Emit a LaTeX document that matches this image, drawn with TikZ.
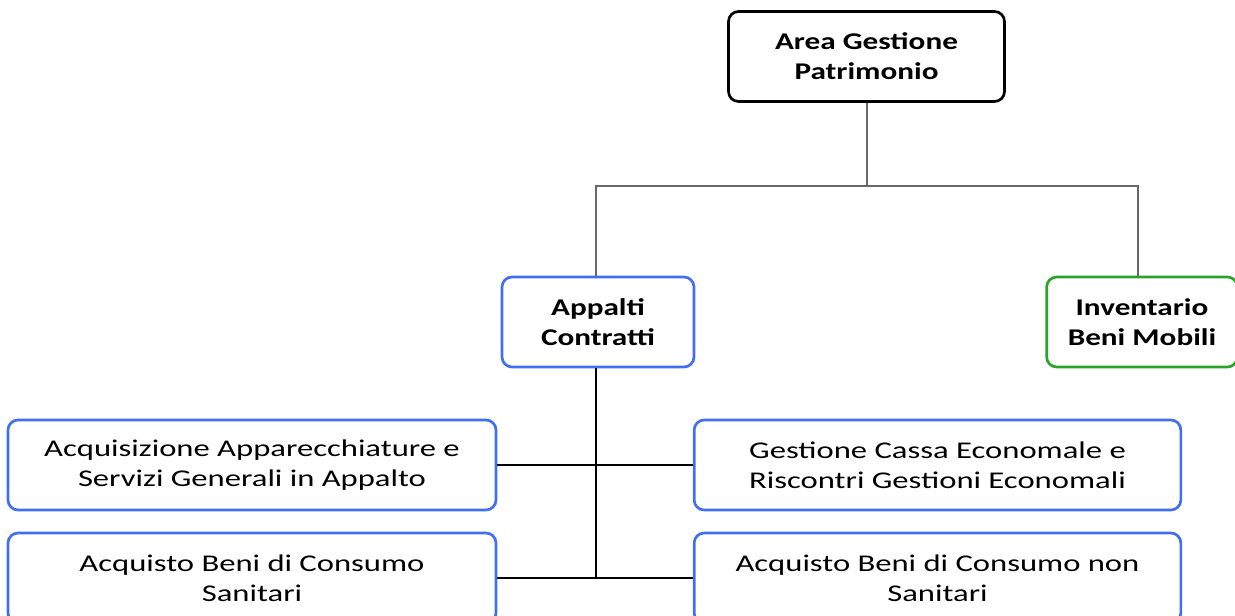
\documentclass[tikz,border=0pt]{standalone}
\usepackage{fontspec}
\newfontfamily\headfamily{Carlito}[FakeStretch=1.3]
\newfontfamily\subfamily{Carlito}[FakeStretch=1.36]
\usetikzlibrary{calc}

\definecolor{unitblue}{RGB}{66,110,240}
\definecolor{unitgreen}{RGB}{40,165,40}
\definecolor{linkgray}{RGB}{105,105,105}

\tikzset{every picture/.style={line width=0.75pt}}
\tikzset{
  unitbox/.style={draw, rounded corners=7.5pt, line width=2pt, align=center, inner sep=0pt, minimum height=67.5pt},
  headfont/.style={font=\headfamily\bfseries\fontsize{18}{22.5}\selectfont},
  subfont/.style={font=\subfamily\fontsize{18}{22.5}\selectfont},
  link/.style={draw=linkgray, line width=1.5pt},
  sublink/.style={draw=black, line width=1pt}
}

\begin{document}
\begin{tikzpicture}[x=0.75pt,y=0.75pt,yscale=-1,xscale=1]
\useasboundingbox (0,0) rectangle (1235,616);
\clip (0,0) rectangle (1235,616);

% Top unit
\node [unitbox, headfont, draw=black, minimum width=207pt] (area) at (866.5,56.5) {Area Gestione\\Patrimonio};

% Second level
\node [unitbox, headfont, draw=unitblue, minimum width=144pt] (appalti) at (598,322) {Appalti\\Contratti};
\node [unitbox, headfont, draw=unitgreen, minimum width=143pt] (inventario) at (1142,322) {Inventario\\Beni Mobili};

% Third level
\node [unitbox, subfont, draw=unitblue, minimum width=366pt] (acqapp) at (252,465) {Acquisizione Apparecchiature e\\Servizi Generali in Appalto};
\node [unitbox, subfont, draw=unitblue, minimum width=365pt] (cassa) at (937.5,465) {Gestione Cassa Economale e\\Riscontri Gestioni Economali};
\node [unitbox, subfont, draw=unitblue, minimum width=366pt] (sanitari) at (252,578) {Acquisto Beni di Consumo\\Sanitari};
\node [unitbox, subfont, draw=unitblue, minimum width=365pt] (nonsanitari) at (937.5,578) {Acquisto Beni di Consumo non\\Sanitari};

% Connectors
\coordinate (split) at ($(area.south)+(0,84)$);
\draw [link] (area.south) -- (split);
\draw [link] (appalti.north -| 596,0) -- (596,186) -- (1138,186) -- (inventario.north -| 1138,0);
\draw [sublink] (appalti.south -| 596,0) -- (sanitari.east -| 596,0);
\draw [sublink] (acqapp.east) -- (cassa.west);
\draw [sublink] (sanitari.east) -- (nonsanitari.west);

\end{tikzpicture}
\end{document}
